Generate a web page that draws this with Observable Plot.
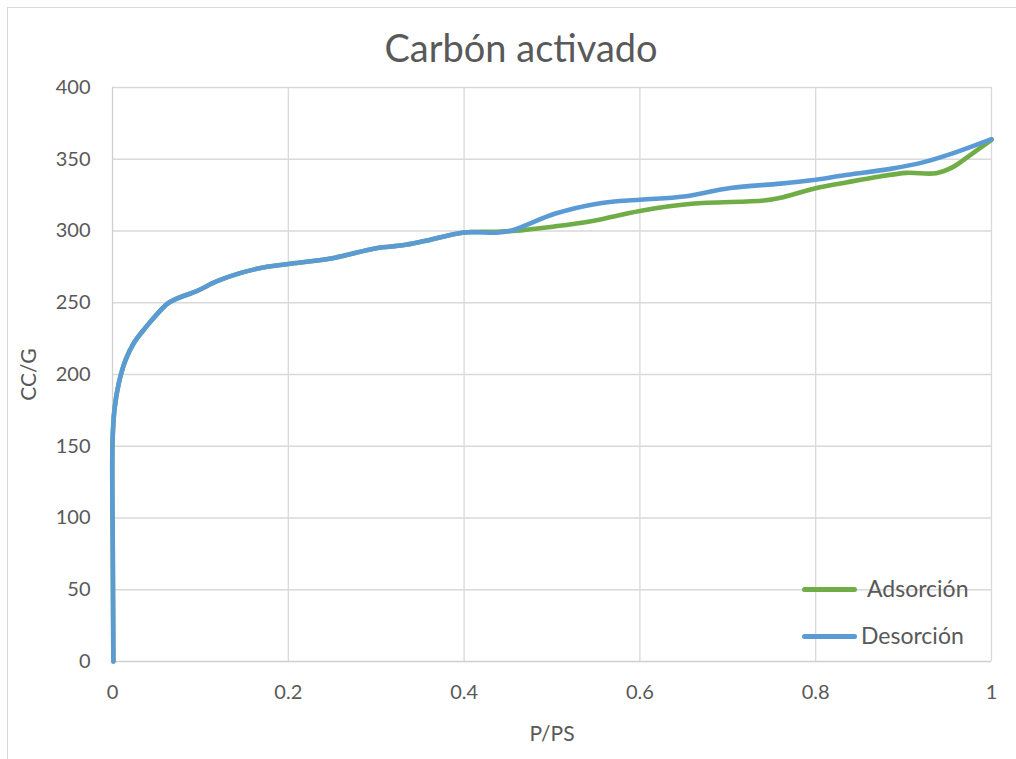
<!DOCTYPE html>
<html>
<head>
<meta charset="utf-8">
<script src="https://cdn.jsdelivr.net/npm/d3@7"></script>
<script src="https://cdn.jsdelivr.net/npm/@observablehq/plot@0.6"></script>
<style>
  html, body { margin: 0; padding: 0; background: #fff; }
  #wrap { position: relative; width: 1016px; height: 759px; overflow: hidden; font-family: Lato, "Open Sans", sans-serif; color: #595959; }
  .frame-top { position: absolute; left: 7px; top: 7px; width: 1009px; height: 1px; background: #d9d9d9; }
  .frame-left { position: absolute; left: 7px; top: 7px; width: 1px; height: 752px; background: #d9d9d9; }
  #title { position: absolute; left: 0; width: 1042px; top: 22px; text-align: center; font-size: 38px; line-height: 50px; color: #595959; }
  #chart { position: absolute; left: 0; top: 70px; }
  .leg { position: absolute; font-size: 23px; line-height: 26px; color: #595959; }
  .sw { position: absolute; height: 5px; border-radius: 3px; }
</style>
</head>
<body>
<div id="wrap">
  <div class="frame-top"></div>
  <div class="frame-left"></div>
  <div id="title">Carbón activado</div>
  <div id="chart"></div>
</div>
<script>
// Shared low-pressure branch (both curves coincide)
const commonX = [0.001, 0.0003, 0.0, 0.0023, 0.0072, 0.0148, 0.0243, 0.038, 0.0528, 0.0622, 0.0717, 0.0964, 0.119, 0.146, 0.176, 0.2, 0.25, 0.3, 0.33, 0.355, 0.4];
const commonY = [0, 80, 152, 176, 194, 210, 222, 233, 243.5, 249.2, 252.5, 258.3, 265, 270.8, 275.1, 277, 281, 288, 290, 293, 299];

// Adsorción (green) after the branches separate
const adsX = [0.437, 0.455, 0.503, 0.546, 0.6, 0.659, 0.741, 0.763, 0.8, 0.836, 0.873, 0.903, 0.937, 0.956, 0.975, 1.0];
const adsY = [299.5, 300, 303.2, 307, 314, 319, 321.3, 323.6, 329.8, 334, 338, 340.5, 340.3, 344.5, 352.6, 363.5];

// Desorción (blue)
const desX = [0.437, 0.455, 0.503, 0.555, 0.6, 0.65, 0.703, 0.76, 0.8, 0.836, 0.885, 0.923, 0.96, 1.0];
const desY = [298.8, 300.5, 312, 319.4, 321.8, 324, 330, 333, 335.7, 339.2, 343.3, 348, 355, 364];

const xTicks = [0, 0.2, 0.4, 0.6, 0.8, 1];
const yTicks = [0, 50, 100, 150, 200, 250, 300, 350, 400];
const seriesNames = ["Adsorción", "Desorción"];
const seriesColors = ["#70ad47", "#5b9bd5"];
const titleText = "Carbón activado";
const xLabel = "P/PS";
const yLabel = "CC/G";

const toRows = (xs, ys) => xs.map((x, i) => ({x, y: ys[i]}));
const ads = toRows(commonX.concat(adsX), commonY.concat(adsY));
const des = toRows(commonX.concat(desX), commonY.concat(desY));

const font = "Lato, 'Open Sans', sans-serif";

const chart = Plot.plot({
  width: 1016,
  height: 689,
  marginTop: 17,
  marginBottom: 98,
  marginLeft: 112,
  marginRight: 25,
  style: {fontFamily: font, color: "#595959", background: "transparent", overflow: "visible"},
  x: {domain: [0, 1]},
  y: {domain: [0, 400]},
  marks: [
    Plot.gridX(xTicks.filter(d => d > 0), {stroke: "#d9d9d9", strokeOpacity: 1, strokeWidth: 1.3}),
    Plot.gridY(yTicks.filter(d => d > 0), {stroke: "#d9d9d9", strokeOpacity: 1, strokeWidth: 1.3}),
    Plot.ruleX([0], {stroke: "#cfcfcf", strokeWidth: 1.3}),
    Plot.ruleY([0], {stroke: "#cfcfcf", strokeWidth: 1.3}),
    Plot.axisX({ticks: xTicks, tickSize: 0, tickPadding: 23, tickFormat: d => String(d), fontSize: 20, fill: "#595959", label: null}),
    Plot.axisY({ticks: yTicks, tickSize: 0, tickPadding: 22, tickFormat: d => String(d), fontSize: 20, fill: "#595959", label: null}),
    Plot.line(ads, {x: "x", y: "y", stroke: seriesColors[0], strokeWidth: 4.6, curve: "catmull-rom"}),
    Plot.line(des, {x: "x", y: "y", stroke: seriesColors[1], strokeWidth: 4.6, curve: "catmull-rom"}),
    Plot.text([xLabel], {frameAnchor: "bottom", dy: 73, lineAnchor: "middle", fontSize: 21, fill: "#595959"}),
    Plot.text([yLabel], {frameAnchor: "left", dx: -83, rotate: -90, lineAnchor: "middle", textAnchor: "middle", fontSize: 21, fill: "#595959"})
  ]
});
document.getElementById("chart").appendChild(chart);

// Legend (inside plot, lower right)
const wrap = document.getElementById("wrap");
const legendPos = [{sy: 589, tx: 867}, {sy: 636, tx: 861}];
seriesNames.forEach((name, i) => {
  const sw = document.createElement("div");
  sw.className = "sw";
  sw.style.left = "802px"; sw.style.width = "55px";
  sw.style.top = (legendPos[i].sy - 2.5) + "px";
  sw.style.background = seriesColors[i];
  wrap.appendChild(sw);
  const t = document.createElement("div");
  t.className = "leg";
  t.textContent = name;
  t.style.left = legendPos[i].tx + "px";
  t.style.top = (legendPos[i].sy - 14) + "px";
  wrap.appendChild(t);
});
</script>
</body>
</html>
